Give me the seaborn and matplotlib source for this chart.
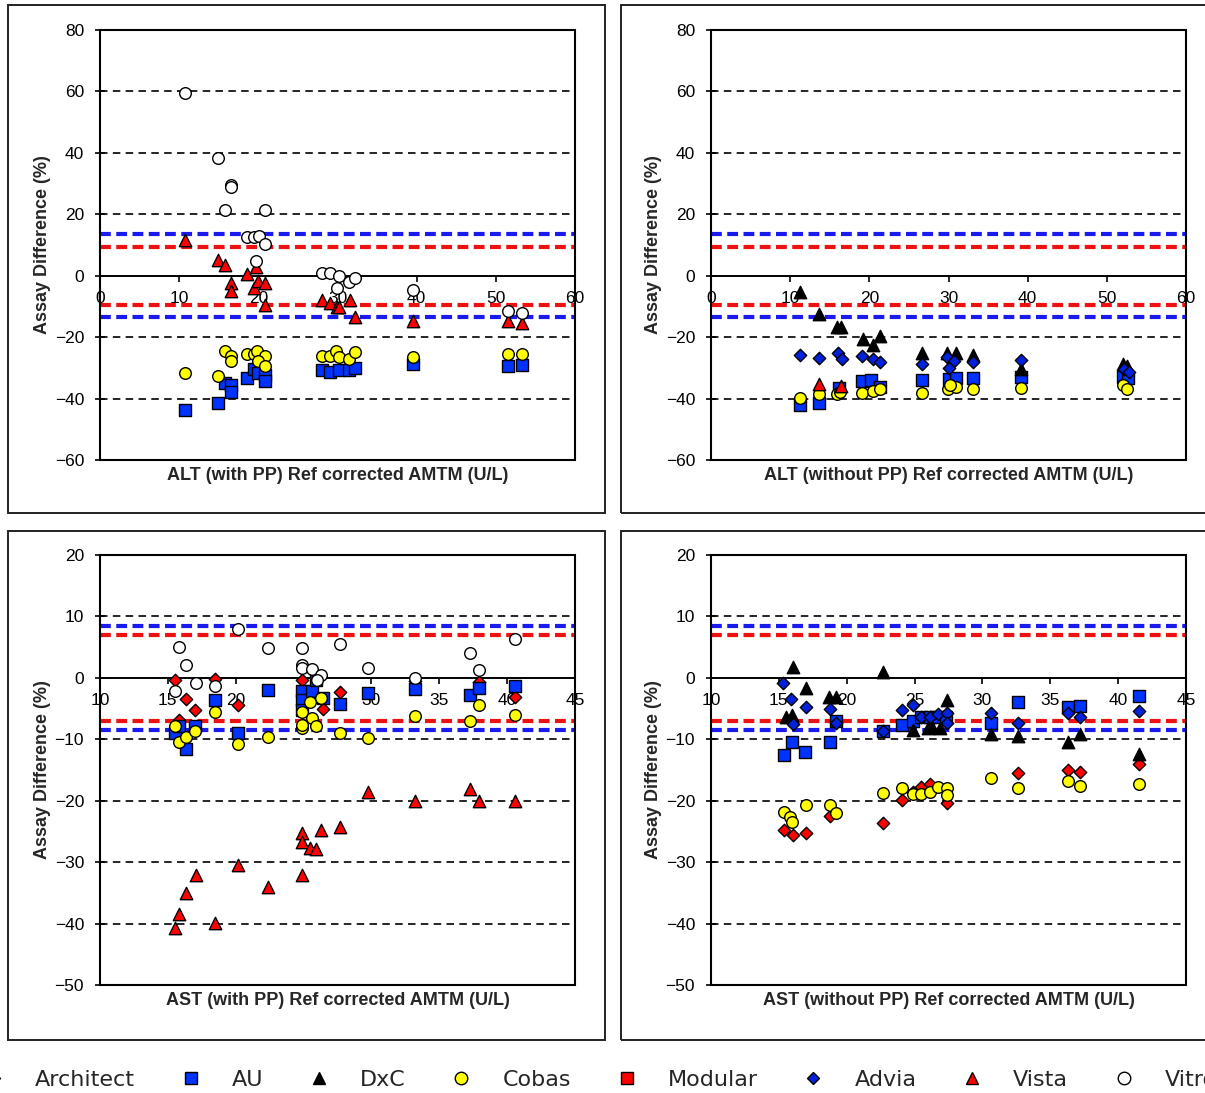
import matplotlib
matplotlib.use("Agg")
import matplotlib.pyplot as plt
import pandas as pd
import seaborn as sns
from matplotlib.lines import Line2D
from matplotlib.patches import Rectangle

sns.set_theme(style="white")
plt.rcParams["font.family"] = ["Liberation Sans", "DejaVu Sans"]

# ---------------------------------------------------------------- data
ANALYZERS = ["Architect", "AU", "DxC", "Cobas", "Modular", "Advia", "Vista", "Vitros"]

# ALT, with PP
ALT_PP = {
    "AU": ([10.7, 14.9, 15.8, 16.6, 16.5, 18.6, 19.4, 19.9, 20.9, 20.9, 28.0, 29.1, 30.2, 31.5, 32.2, 39.5, 51.5, 53.3],
           [-43.7, -41.4, -35.0, -35.6, -37.8, -33.4, -30.5, -31.6, -32.3, -34.2, -30.7, -31.3, -30.7, -30.7, -30.2, -28.8, -29.4, -29.1]),
    "Cobas": ([10.7, 15.8, 16.5, 16.5, 14.9, 18.6, 19.4, 19.8, 20.9, 19.9, 20.9, 28.0, 29.1, 29.8, 30.2, 31.5, 32.2, 39.5, 51.5, 53.3],
              [-31.6, -24.5, -26.1, -27.8, -32.7, -25.5, -25.5, -24.5, -26.0, -27.7, -29.3, -26.0, -26.0, -24.4, -26.6, -27.1, -24.7, -26.6, -25.5, -25.5]),
    "Vista": ([10.7, 14.9, 15.8, 16.5, 16.6, 18.6, 19.7, 19.4, 20.0, 20.9, 20.9, 28.0, 29.1, 29.9, 30.2, 31.6, 32.2, 39.5, 51.5, 53.3],
              [11.6, 5.1, 3.5, -2.5, -5.0, 0.6, 2.9, -4.1, -1.7, -2.5, -9.5, -7.9, -9.0, -10.1, -10.1, -7.9, -13.3, -14.6, -14.8, -15.4]),
    "Vitros": ([10.7, 14.9, 16.5, 16.6, 15.8, 20.9, 18.6, 19.5, 20.1, 20.9, 19.7, 28.0, 29.1, 30.2, 29.9, 31.5, 32.2, 39.5, 51.5, 53.3],
               [59.6, 38.2, 29.5, 28.8, 21.4, 21.4, 12.7, 12.7, 13.0, 10.3, 4.9, 1.0, 1.0, -0.1, -4.1, -2.1, -0.8, -4.7, -11.6, -12.2]),
}

# ALT, without PP
ALT_NO_PP = {
    "AU": ([11.2, 13.7, 16.2, 19.1, 20.2, 21.3, 26.6, 30.0, 30.9, 33.1, 39.2, 52.0, 52.7],
           [-42.1, -41.6, -36.7, -34.2, -34.0, -36.1, -34.0, -33.7, -33.4, -33.4, -32.9, -32.9, -33.4]),
    "DxC": ([11.2, 13.7, 15.9, 16.4, 19.2, 21.3, 20.5, 26.6, 29.8, 30.9, 33.1, 39.2, 52.1, 52.6],
            [-5.2, -12.6, -16.6, -16.6, -20.7, -19.6, -22.6, -25.3, -25.3, -25.3, -25.8, -30.5, -28.7, -29.4]),
    "Cobas": ([11.2, 13.7, 15.9, 16.3, 19.1, 20.4, 21.3, 26.6, 29.9, 30.9, 30.2, 33.1, 39.2, 52.1, 52.6],
              [-39.9, -38.5, -38.5, -37.8, -38.1, -37.4, -37.0, -38.1, -37.0, -36.1, -35.6, -37.0, -36.7, -35.6, -37.0]),
    "Advia": ([11.2, 13.7, 16.0, 16.5, 19.1, 20.4, 21.3, 26.6, 29.8, 30.7, 30.0, 33.1, 39.2, 52.2, 52.8],
              [-25.8, -26.7, -25.1, -27.2, -26.1, -27.2, -28.0, -28.8, -26.6, -27.7, -30.2, -28.0, -27.4, -30.3, -31.2]),
    "Vista": ([13.7, 16.4], [-35.4, -35.8]),
}

# AST, with PP
AST_PP = {
    "Architect": ([15.53, 16.31, 17.0, 18.5, 20.2, 15.85, 24.86, 26.4, 27.7, 33.2, 37.9, 40.6],
                  [-0.3, -3.4, -5.3, -0.2, -4.4, -6.9, -0.3, -5.0, -2.3, -0.5, -0.6, -3.1]),
    "AU": ([15.5, 15.85, 16.3, 17.0, 18.5, 20.14, 22.35, 24.86, 24.86, 24.86, 25.6, 25.9, 26.45, 27.7, 29.73, 33.2, 37.26, 37.9, 40.6],
           [-9.0, -7.9, -11.6, -7.8, -3.6, -9.0, -2.0, -2.2, -3.6, -5.2, -2.2, -0.3, -3.3, -4.2, -2.4, -1.8, -2.8, -1.6, -1.4]),
    "Cobas": ([15.5, 15.85, 16.3, 17.0, 18.5, 20.14, 22.4, 24.86, 24.86, 24.86, 25.6, 25.9, 25.5, 26.3, 27.7, 29.73, 33.2, 37.26, 37.9, 40.6],
              [-7.9, -10.5, -9.7, -8.6, -5.6, -10.8, -9.6, -5.5, -8.2, -7.7, -6.6, -7.9, -3.9, -3.3, -8.9, -9.8, -6.2, -7.0, -4.4, -6.0]),
    "Vista": ([15.5, 15.85, 16.3, 17.04, 18.5, 20.14, 22.35, 24.86, 24.86, 24.86, 25.5, 25.9, 26.3, 27.7, 29.73, 33.2, 37.26, 37.9, 40.6],
              [-40.8, -38.4, -35.0, -32.1, -39.9, -30.5, -34.0, -32.1, -25.3, -26.8, -27.7, -27.9, -24.8, -24.2, -18.5, -20.0, -18.1, -20.1, -20.1]),
    "Vitros": ([15.82, 16.31, 15.5, 17.04, 18.5, 20.14, 22.4, 24.86, 24.86, 24.9, 25.6, 26.3, 26.0, 27.7, 29.73, 33.2, 37.26, 37.9, 40.6],
               [5.0, 2.1, -2.1, -0.9, -1.3, 7.9, 4.8, 4.8, 2.1, 1.6, 1.4, 0.5, -0.3, 5.5, 1.6, 0.0, 4.1, 1.3, 6.4]),
}

# AST, without PP
AST_NO_PP = {
    "Architect": ([15.4, 16.07, 16.98, 18.8, 22.7, 24.1, 24.9, 25.5, 26.1, 27.4, 32.6, 36.3, 37.2, 41.5],
                  [-24.8, -25.6, -25.2, -22.5, -23.6, -19.9, -18.5, -17.7, -17.2, -20.4, -15.5, -15.0, -15.3, -14.0]),
    "AU": ([15.4, 16.0, 16.93, 18.8, 19.2, 22.7, 24.1, 24.9, 25.5, 26.1, 26.6, 27.3, 30.6, 32.6, 36.3, 37.2, 41.5],
           [-12.6, -10.4, -12.1, -10.5, -7.0, -8.6, -7.7, -7.1, -6.4, -6.3, -6.3, -6.3, -7.4, -3.9, -4.7, -4.5, -2.9]),
    "DxC": ([16.07, 22.7, 16.98, 18.7, 19.2, 15.5, 16.0, 27.4, 24.9, 26.0, 26.3, 26.9, 30.6, 32.6, 36.3, 37.2, 41.5],
            [1.7, 0.9, -1.7, -3.1, -3.1, -6.3, -6.0, -3.6, -8.5, -8.2, -8.0, -8.2, -9.2, -9.5, -10.4, -9.2, -12.4]),
    "Cobas": ([15.4, 15.8, 16.0, 16.98, 18.8, 19.2, 22.7, 24.1, 24.9, 25.5, 26.1, 26.7, 27.4, 27.4, 30.6, 32.6, 36.3, 37.2, 41.5],
              [-21.8, -22.6, -23.4, -20.7, -20.7, -22.0, -18.8, -17.9, -18.9, -18.9, -18.5, -17.7, -18.0, -19.1, -16.3, -18.0, -16.8, -17.6, -17.2]),
    "Advia": ([15.33, 15.9, 16.98, 18.8, 16.07, 19.2, 22.7, 24.1, 24.9, 25.5, 26.1, 26.7, 27.4, 27.4, 30.6, 32.6, 36.3, 37.2, 41.5],
              [-0.9, -3.4, -4.7, -5.1, -7.5, -7.4, -8.6, -5.2, -4.4, -6.4, -6.3, -5.9, -5.8, -7.3, -5.7, -7.4, -5.7, -6.3, -5.4]),
}

ALT_LIMITS = (9.4, 13.5)     # red, blue acceptance limits (%)
AST_LIMITS = (7.0, 8.5)

ALT_XTICKS = [0, 10, 20, 30, 40, 50, 60]
ALT_YTICKS = [-60, -40, -20, 0, 20, 40, 60, 80]
AST_XTICKS = [10, 15, 20, 25, 30, 35, 40, 45]
AST_YTICKS = [-50, -40, -30, -20, -10, 0, 10, 20]

X_LABELS = [
    "ALT (with PP) Ref corrected AMTM (U/L)",
    "ALT (without PP) Ref corrected AMTM (U/L)",
    "AST (with PP) Ref corrected AMTM (U/L)",
    "AST (without PP) Ref corrected AMTM (U/L)",
]
Y_LABEL = "Assay Difference (%)"

# ---------------------------------------------------------------- styles
MARKERS = {"Architect": "D", "AU": "s", "DxC": "^", "Cobas": "o",
           "Modular": "s", "Advia": "D", "Vista": "^", "Vitros": "o"}
FACES = {"Architect": "#ff0000", "AU": "#0033ff", "DxC": "#000000", "Cobas": "#ffff00",
         "Modular": "#ff0000", "Advia": "#0022dd", "Vista": "#ff0000", "Vitros": "#ffffff"}
SIZES = {"Architect": 40, "AU": 70, "DxC": 80, "Cobas": 70,
         "Modular": 70, "Advia": 40, "Vista": 80, "Vitros": 70}
RED_LINE = "#ee1111"
BLUE_LINE = "#1a1aee"

W, H = 1205, 1093
fig = plt.figure(figsize=(W / 100, H / 100), dpi=100)
fig.patch.set_facecolor("white")


def px_axes(left, top, right, bottom):
    return fig.add_axes([left / W, 1 - bottom / H, (right - left) / W, (bottom - top) / H])


def draw_panel(ax, series, xticks, yticks, limits, xlabel):
    ymin, ymax = yticks[0], yticks[-1]
    # black dashed reference lines at each major step
    for yv in yticks[1:-1]:
        if yv != 0:
            ax.axhline(yv, color="black", lw=1.2, ls=(0, (4.5, 3.2)), zorder=1)
    red, blue = limits
    for sign in (1, -1):
        ax.axhline(sign * blue, color=BLUE_LINE, lw=3.0, ls=(0, (2.6, 1.3)), zorder=2)
        ax.axhline(sign * red, color=RED_LINE, lw=3.0, ls=(0, (2.6, 1.3)), zorder=2)

    for i, name in enumerate(ANALYZERS):
        if name not in series:
            continue
        xs, ys = series[name]
        df = pd.DataFrame({"x": xs, "y": ys})
        sns.scatterplot(data=df, x="x", y="y", ax=ax, marker=MARKERS[name],
                        color=FACES[name], edgecolor="black", linewidth=1.0,
                        s=SIZES[name], zorder=5 + i, legend=False, clip_on=False)

    ax.set_xlim(xticks[0], xticks[-1])
    ax.set_ylim(ymin, ymax)
    ax.set_xticks(xticks)
    ax.set_yticks(yticks)
    ax.set_facecolor("white")
    ax.grid(False)

    for side in ("top", "left", "right"):
        ax.spines[side].set_visible(False)
    ax.spines["bottom"].set_position(("data", 0))
    ax.spines["bottom"].set_color("black")
    ax.spines["bottom"].set_linewidth(1.4)
    ax.add_patch(Rectangle((0, 0), 1, 1, transform=ax.transAxes, fill=False,
                           ec="black", lw=1.5, zorder=20, clip_on=False))

    ax.tick_params(axis="y", direction="inout", length=7, width=1.2, pad=8,
                   labelsize=12.5, colors="black", left=True)
    ax.tick_params(axis="x", direction="out", length=4, width=1.2, pad=7,
                   labelsize=12.5, colors="black", bottom=True)

    ax.set_xlabel(xlabel, fontsize=13, fontweight="bold")
    ax.set_ylabel(Y_LABEL, fontsize=13, fontweight="bold")
    ax.xaxis.set_label_coords(0.5, -0.016)
    ax.yaxis.set_label_coords(-0.104, 0.5)


ax1 = px_axes(100, 30, 575, 460)
ax2 = px_axes(711, 30, 1186, 460)
ax3 = px_axes(100, 555, 575, 985)
ax4 = px_axes(711, 555, 1186, 985)

draw_panel(ax1, ALT_PP, ALT_XTICKS, ALT_YTICKS, ALT_LIMITS, X_LABELS[0])
draw_panel(ax2, ALT_NO_PP, ALT_XTICKS, ALT_YTICKS, ALT_LIMITS, X_LABELS[1])
draw_panel(ax3, AST_PP, AST_XTICKS, AST_YTICKS, AST_LIMITS, X_LABELS[2])
draw_panel(ax4, AST_NO_PP, AST_XTICKS, AST_YTICKS, AST_LIMITS, X_LABELS[3])

# chart-area frames around each panel
for (l, t, r, b) in [(8, 5, 605, 513), (621, 5, 1230, 513),
                     (8, 531, 605, 1040), (621, 531, 1230, 1040)]:
    fig.add_artist(Rectangle((l / W, 1 - b / H), (r - l) / W, (b - t) / H,
                             transform=fig.transFigure, fill=False,
                             ec="#222222", lw=1.4))

# shared legend along the bottom (wider than the figure, as laid out)
handles = [Line2D([], [], ls="none", marker=MARKERS[n], markersize=9 if MARKERS[n] != "D" else 6.5,
                  markerfacecolor=FACES[n], markeredgecolor="black", markeredgewidth=1.0)
           for n in ANALYZERS]
fig.legend(handles, ANALYZERS, loc="center left", bbox_to_anchor=(-37 / W, 1 - 1080 / H),
           ncol=8, frameon=False, handlelength=1.0, handletextpad=1.35,
           columnspacing=2.0, prop={"family": "DejaVu Sans", "size": 16})

fig.savefig("out.png", dpi=100, facecolor="white")
